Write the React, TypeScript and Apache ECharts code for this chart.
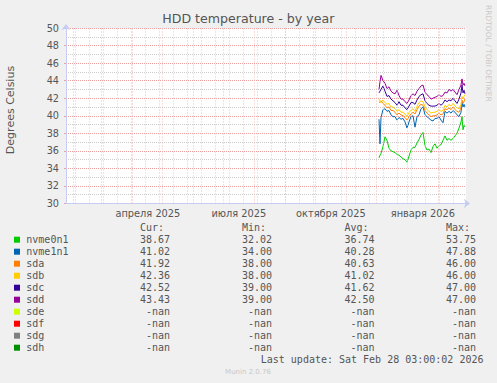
import React, { useEffect, useRef } from 'react';
import * as echarts from 'echarts';

// ---- data ----
const dates = [
  '2025-12-03', '2025-12-04', '2025-12-05', '2025-12-07', '2025-12-09', '2025-12-11', '2025-12-13',
  '2025-12-15', '2025-12-17', '2025-12-19', '2025-12-21', '2025-12-23', '2025-12-25', '2025-12-27',
  '2025-12-29', '2025-12-31', '2026-01-02', '2026-01-04', '2026-01-06', '2026-01-08', '2026-01-10',
  '2026-01-12', '2026-01-14', '2026-01-16', '2026-01-18', '2026-01-20', '2026-01-22', '2026-01-24',
  '2026-01-26', '2026-01-28', '2026-01-30', '2026-02-01', '2026-02-03', '2026-02-05', '2026-02-07',
  '2026-02-09', '2026-02-11', '2026-02-13', '2026-02-15', '2026-02-17', '2026-02-19', '2026-02-21',
  '2026-02-23', '2026-02-24', '2026-02-25', '2026-02-26', '2026-02-27',
];
const nvme0n1 = [35.2, 35.5, 35.7, 36.5, 37.6, 37.2, 36.3, 36.0, 35.9, 35.8, 35.6, 35.5, 35.3, 35.1, 35.0, 34.7, 35.4, 36.1, 36.4, 36.4, 36.9, 37.3, 37.8, 38.1, 36.6, 36.1, 36.2, 35.8, 36.5, 36.8, 36.3, 36.6, 36.7, 37.2, 37.7, 37.2, 37.4, 37.2, 37.4, 37.7, 38.0, 38.6, 39.3, 39.9, 38.4, 38.9, 38.7];
const nvme1n1 = [39.6, 36.8, 39.8, 40.7, 40.8, 40.5, 40.6, 40.1, 39.9, 39.9, 39.5, 39.8, 39.6, 39.7, 39.3, 38.6, 39.3, 39.9, 40.0, 38.7, 39.9, 40.1, 40.8, 41.0, 40.1, 39.9, 39.7, 39.5, 39.4, 39.7, 39.7, 39.9, 39.5, 39.2, 40.5, 40.3, 40.5, 40.3, 40.6, 40.4, 40.1, 39.9, 40.4, 41.5, 41.0, 41.3, 41.0];
const sda = [41.6, 41.5, 41.7, 41.4, 41.2, 40.9, 41.0, 40.6, 40.6, 40.4, 40.1, 40.3, 40.1, 40.0, 39.8, 39.5, 39.9, 40.2, 40.4, 40.2, 40.7, 41.1, 41.3, 41.2, 40.6, 40.3, 40.1, 39.9, 40.0, 40.0, 40.1, 40.3, 40.1, 40.2, 40.8, 40.7, 40.9, 40.7, 41.0, 40.7, 40.5, 40.4, 40.9, 41.8, 41.4, 41.6, 41.9];
const sdb = [41.9, 41.7, 41.5, 41.8, 41.5, 41.3, 41.4, 41.0, 41.0, 40.8, 40.5, 40.7, 40.4, 40.4, 40.2, 39.9, 40.4, 40.6, 40.8, 40.5, 41.1, 41.5, 41.7, 41.6, 41.0, 40.7, 40.5, 40.3, 40.4, 40.4, 40.5, 40.7, 40.5, 40.6, 41.2, 41.0, 41.3, 41.1, 41.4, 41.1, 40.9, 40.8, 41.3, 42.2, 41.9, 42.2, 42.4];
const sdc = [42.6, 42.8, 43.0, 43.4, 42.8, 42.2, 42.3, 41.9, 41.7, 41.5, 41.2, 41.6, 41.2, 41.2, 40.9, 40.7, 41.1, 41.5, 41.5, 41.3, 41.8, 42.2, 42.4, 42.5, 41.7, 41.4, 41.2, 41.1, 41.1, 41.1, 41.2, 41.4, 41.2, 41.4, 41.8, 41.6, 41.8, 41.7, 42.0, 41.7, 41.4, 41.9, 42.6, 43.5, 42.6, 42.9, 42.5];
const sdd = [43.0, 43.9, 44.6, 44.0, 43.7, 43.1, 43.3, 42.8, 42.6, 42.5, 42.9, 42.3, 41.9, 41.9, 41.6, 41.4, 41.8, 42.3, 42.5, 42.3, 42.8, 43.1, 43.4, 43.5, 42.7, 42.4, 42.2, 41.9, 42.0, 42.1, 42.2, 42.4, 42.2, 42.3, 42.7, 42.6, 43.0, 42.8, 43.0, 42.7, 42.4, 43.0, 43.5, 44.2, 43.5, 43.7, 43.4];

const seriesNames = ['nvme0n1', 'nvme1n1', 'sda', 'sdb', 'sdc', 'sdd', 'sde', 'sdf', 'sdg', 'sdh'];
const seriesColors = ['#00CC00', '#0066B3', '#FF8000', '#FFCC00', '#330099', '#990099', '#CCFF00', '#FF0000', '#808080', '#008F00'];
const seriesData = [nvme0n1, nvme1n1, sda, sdb, sdc, sdd, [], [], [], []];
const curValues = ['38.67', '41.02', '41.92', '42.36', '42.52', '43.43', '-nan', '-nan', '-nan', '-nan'];
const minValues = ['32.02', '34.00', '38.00', '38.00', '39.00', '39.00', '-nan', '-nan', '-nan', '-nan'];
const avgValues = ['36.74', '40.28', '40.63', '41.02', '41.62', '42.50', '-nan', '-nan', '-nan', '-nan'];
const maxValues = ['53.75', '47.88', '46.00', '46.00', '47.00', '47.00', '-nan', '-nan', '-nan', '-nan'];

const monthStarts = [
  '2025-02-01', '2025-03-01', '2025-04-01', '2025-05-01', '2025-06-01', '2025-07-01', '2025-08-01',
  '2025-09-01', '2025-10-01', '2025-11-01', '2025-12-01', '2026-01-01', '2026-02-01',
];
const labelDates = ['2025-04-16', '2025-07-16', '2025-10-16', '2026-01-16'];
const labelTexts = ['апреля 2025', 'июля 2025', 'октября 2025', 'января 2026'];
const titleText = 'HDD temperature - by year';
const yAxisTitle = 'Degrees Celsius';
const lastUpdate = 'Last update: Sat Feb 28 03:00:02 2026';

const ts = (s: string, h = 0) => {
  const [y, m, d] = s.split('-').map(Number);
  return new Date(y, m - 1, d, h).getTime();
};

const X_MIN = new Date(2025, 0, 24, 3).getTime();
const X_MAX = new Date(2026, 1, 28, 3).getTime();
const DAY = 86400000;
// snap a grid date to the centre of its pixel column (1 px = 1 day)
const snap = (t: number) => X_MIN + (Math.floor((t - X_MIN) / DAY) + 0.5) * DAY;

export default function App() {
  const ref = useRef<HTMLDivElement>(null);
  useEffect(() => {
    document.body.style.margin = '0';
    document.body.style.background = '#F0F0F0';
    const chart = echarts.init(ref.current!, null, { renderer: 'svg' });

    const minorDates: number[] = [];
    for (let t = ts('2025-02-03'); t < X_MAX; t += 14 * DAY) minorDates.push(t);

    const text = '#555555';
    const sans = 'DejaVu Sans';
    const mono = 'DejaVu Sans Mono';
    const axisBlue = '#c6ccf2';
    const red = '#eea0a0';
    const redV = '#f2b8b8';
    const gray = '#cccccc';

    const graphics: any[] = [
      { type: 'text', x: 248.3, y: 18.6, style: { text: titleText, fill: text, fontFamily: sans, fontSize: 12.6, align: 'center', verticalAlign: 'middle' } },
      { type: 'text', x: 10, y: 110, rotation: Math.PI / 2, style: { text: yAxisTitle, fill: text, fontFamily: sans, fontSize: 11, align: 'center', verticalAlign: 'middle' } },
      { type: 'text', x: 488.5, y: 5, rotation: -Math.PI / 2, style: { text: 'RRDTOOL / TOBI OETIKER', fill: '#c8c8c8', fontFamily: sans, fontSize: 7.5, align: 'left', verticalAlign: 'middle' } },
      { type: 'text', x: 140, y: 227.3, style: { text: 'Cur:', fill: text, fontFamily: mono, fontSize: 10, align: 'left', verticalAlign: 'middle' } },
      { type: 'text', x: 242, y: 227.3, style: { text: 'Min:', fill: text, fontFamily: mono, fontSize: 10, align: 'left', verticalAlign: 'middle' } },
      { type: 'text', x: 344.5, y: 227.3, style: { text: 'Avg:', fill: text, fontFamily: mono, fontSize: 10, align: 'left', verticalAlign: 'middle' } },
      { type: 'text', x: 446, y: 227.3, style: { text: 'Max:', fill: text, fontFamily: mono, fontSize: 10, align: 'left', verticalAlign: 'middle' } },
      { type: 'text', x: 483.5, y: 359.3, style: { text: lastUpdate, fill: text, fontFamily: mono, fontSize: 10, align: 'right', verticalAlign: 'middle' } },
      { type: 'text', x: 248, y: 372.3, style: { text: 'Munin 2.0.76', fill: '#c8c8c8', fontFamily: sans, fontSize: 7, align: 'center', verticalAlign: 'middle' } },
    ];
    seriesNames.forEach((name, i) => {
      const y = 239.7 + 12 * i;
      graphics.push({ type: 'rect', shape: { x: 14, y: y - 3, width: 6, height: 6 }, style: { fill: seriesColors[i] } });
      graphics.push({ type: 'text', x: 26.3, y, style: { text: name, fill: text, fontFamily: mono, fontSize: 10, align: 'left', verticalAlign: 'middle' } });
      [[curValues, 170.1], [minValues, 272.1], [avgValues, 374.6], [maxValues, 476.1]].forEach(([arr, x]: any) => {
        graphics.push({ type: 'text', x, y, style: { text: arr[i], fill: text, fontFamily: mono, fontSize: 10, align: 'right', verticalAlign: 'middle' } });
      });
    });

    const series: any[] = [
      {
        type: 'line', name: 'minorgrid', data: [], silent: true, z: 1,
        markLine: {
          silent: true, symbol: ['none', 'none'], label: { show: false },
          lineStyle: { color: gray, width: 1, type: [1, 2] },
          data: minorDates.map((t) => ({ xAxis: snap(t) })),
        },
      },
      {
        type: 'line', name: 'majorgrid', data: [], silent: true, z: 1,
        markLine: {
          silent: true, symbol: ['none', 'none'], label: { show: false },
          lineStyle: { color: redV, width: 1, type: [1, 2] },
          data: monthStarts.map((d) => ({ xAxis: snap(ts(d)) })),
        },
      },
    ];
    seriesNames.forEach((name, i) => {
      series.push({
        type: 'line', name, z: 3,
        data: (seriesData[i] as number[]).map((v, j) => [ts(dates[j], 3), v]),
        showSymbol: false, symbol: 'none',
        lineStyle: { color: seriesColors[i], width: 1 },
        itemStyle: { color: seriesColors[i] },
      });
    });

    chart.setOption({
      animation: false,
      backgroundColor: '#F0F0F0',
      textStyle: { fontFamily: sans },
      grid: { left: 66, top: 28, width: 400, height: 175.5, show: true, backgroundColor: '#ffffff', borderWidth: 0, containLabel: false },
      xAxis: {
        type: 'value', min: X_MIN, max: X_MAX,
        axisLine: { show: true, lineStyle: { color: axisBlue, width: 1 }, symbol: ['none', 'arrow'], symbolSize: [7, 6], symbolOffset: [0, 4] },
        axisTick: { show: false },
        splitLine: { show: false },
        axisLabel: {
          show: true, color: text, fontFamily: sans, fontSize: 9.8, margin: 5,
          customValues: labelDates.map((d) => ts(d)),
          formatter: (v: number) => {
            const idx = labelDates.findIndex((d) => Math.abs(ts(d) - v) < DAY / 2);
            return idx >= 0 ? labelTexts[idx] : '';
          },
          hideOverlap: false,
        },
      },
      yAxis: {
        type: 'value', min: 30, max: 50, interval: 2,
        axisLine: { show: true, lineStyle: { color: axisBlue, width: 1 }, symbol: ['none', 'arrow'], symbolSize: [7, 6], symbolOffset: [0, 4] },
        axisTick: { show: true, length: 2, lineStyle: { color: red } },
        axisLabel: { color: text, fontFamily: sans, fontSize: 9.7, margin: 7 },
        splitLine: { show: true, lineStyle: { color: red, width: 1, type: [1, 1] } },
        minorTick: { show: false, splitNumber: 2 },
        minorSplitLine: { show: true, lineStyle: { color: gray, width: 1, type: [1, 1] } },
      },
      series,
      graphic: graphics,
    });
    return () => chart.dispose();
  }, []);
  return <div ref={ref} style={{ position: 'fixed', left: 0, top: 0, width: 497, height: 383 }} />;
}
